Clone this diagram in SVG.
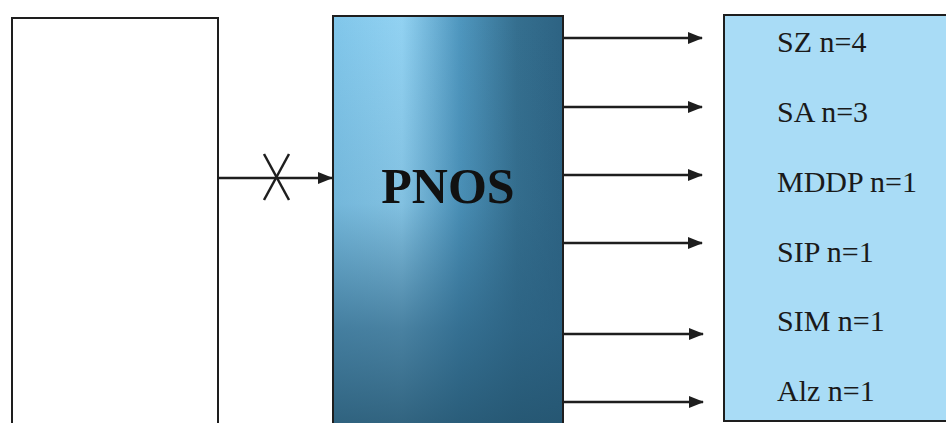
<svg xmlns="http://www.w3.org/2000/svg" width="946" height="423" viewBox="0 0 946 423">
<style>
.box{stroke:#1e1e1e;stroke-width:2}
.conn{stroke:#1e1e1e;stroke-width:2.5;fill:none}
.lbl{font-family:"Liberation Serif","Times New Roman",serif;font-size:30px;fill:#1a1a1a}
.title{font-family:"Liberation Serif","Times New Roman",serif;font-size:50px;font-weight:bold;fill:#111;text-anchor:middle}
</style>
<defs>
<marker id="arr" markerWidth="15" markerHeight="12" refX="14" refY="6" orient="auto" markerUnits="userSpaceOnUse" viewBox="0 0 15 12">
<path d="M0,0 L15,6 L0,12 z" fill="#1e1e1e"/>
</marker>
<linearGradient id="gh" x1="0" y1="0" x2="1" y2="0">
<stop offset="0" stop-color="#80c6ea"/>
<stop offset="0.3" stop-color="#92d2f2"/>
<stop offset="0.55" stop-color="#4f97bf"/>
<stop offset="0.8" stop-color="#356f8f"/>
<stop offset="1" stop-color="#2d6383"/>
</linearGradient>
<linearGradient id="gv" x1="0" y1="0" x2="0" y2="1">
<stop offset="0" stop-color="#2a5f7f" stop-opacity="0"/>
<stop offset="0.45" stop-color="#2a5f7f" stop-opacity="0.15"/>
<stop offset="0.75" stop-color="#2a5f7f" stop-opacity="0.7"/>
<stop offset="1" stop-color="#24546f" stop-opacity="0.9"/>
</linearGradient>
</defs>
<rect width="946" height="423" fill="#ffffff"/>
<g id="source">
<rect class="box" x="12" y="18" width="206" height="415" fill="#ffffff"/>
</g>
<g id="pnos">
<rect x="333" y="16" width="230" height="417" fill="url(#gh)"/>
<rect x="333" y="16" width="230" height="417" fill="url(#gv)"/>
<rect class="box" x="333" y="16" width="230" height="417" fill="none"/>
<text class="title" x="448" y="203">PNOS</text>
</g>
<g id="outputs">
<rect class="box" x="724" y="15" width="232" height="406" fill="#a9dcf6"/>
<text class="lbl" x="777" y="52">SZ n=4</text>
<text class="lbl" x="777" y="122">SA n=3</text>
<text class="lbl" x="777" y="192">MDDP n=1</text>
<text class="lbl" x="777" y="262">SIP n=1</text>
<text class="lbl" x="777" y="331">SIM n=1</text>
<text class="lbl" x="777" y="401">Alz n=1</text>
</g>
<g id="connectors">
<line class="conn" x1="219" y1="178" x2="332" y2="178" marker-end="url(#arr)"/>
<line class="conn" x1="264" y1="154" x2="289" y2="200" stroke-width="2"/>
<line class="conn" x1="289" y1="154" x2="264" y2="200" stroke-width="2"/>
<line class="conn" x1="564" y1="38" x2="702" y2="38" marker-end="url(#arr)"/>
<line class="conn" x1="564" y1="107" x2="702" y2="107" marker-end="url(#arr)"/>
<line class="conn" x1="564" y1="175" x2="702" y2="175" marker-end="url(#arr)"/>
<line class="conn" x1="564" y1="243" x2="702" y2="243" marker-end="url(#arr)"/>
<line class="conn" x1="564" y1="334" x2="703" y2="334" marker-end="url(#arr)"/>
<line class="conn" x1="564" y1="402" x2="703" y2="402" marker-end="url(#arr)"/>
</g>
</svg>
